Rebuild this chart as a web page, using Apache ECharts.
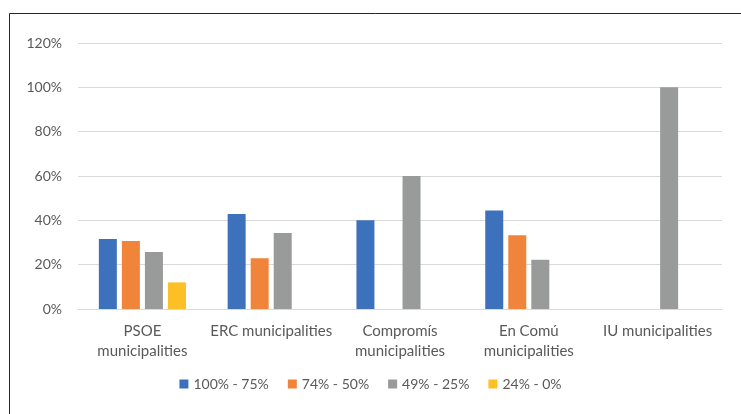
<!DOCTYPE html>
<html>
<head>
<meta charset="utf-8">
<script src="https://cdn.jsdelivr.net/npm/echarts@6/dist/echarts.min.js"></script>
<style>
  html, body { margin: 0; padding: 0; background: #fff; }
  #chart { width: 741px; height: 414px; }
</style>
</head>
<body>
<div id="chart"></div>
<script>
// Municipality groups (category axis)
const categories = [
  'PSOE\nmunicipalities',
  'ERC municipalities',
  'Compromís\nmunicipalities',
  'En Comú\nmunicipalities',
  'IU municipalities'
];

// Share of municipalities per band, in percent ('-' = no bar)
const band100to75 = [31.6, 42.9, 40.0, 44.4, '-'];
const band74to50  = [30.7, 22.9, '-', 33.3, '-'];
const band49to25  = [25.7, 34.3, 60.0, 22.2, 100];
const band24to0   = [12.0, '-', '-', '-', '-'];

const seriesNames = ['100% - 75%', '74% - 50%', '49% - 25%', '24% - 0%'];
const seriesColors = ['#3D71BB', '#F1843B', '#999B9B', '#FDBF26'];
const seriesData = [band100to75, band74to50, band49to25, band24to0];

// Value axis ticks
const yMin = 0, yMax = 120, yStep = 20;

const FONT = 'Lato, "Open Sans", sans-serif';
const TEXT = '#595959';
const GRID = '#D9D9D9';

const chart = echarts.init(document.getElementById('chart'), null, { renderer: 'canvas' });

chart.setOption({
  animation: false,
  backgroundColor: '#fff',
  textStyle: { fontFamily: FONT },
  graphic: [{
    type: 'rect',
    shape: { x: 9.5, y: 13.5, width: 800, height: 500 },
    style: { fill: 'none', stroke: '#262626', lineWidth: 1 },
    silent: true
  }],
  grid: { left: 78, right: 19, top: 43, bottom: 105, containLabel: false },
  legend: {
    data: seriesNames,
    top: 372,
    left: 'center',
    icon: 'rect',
    itemWidth: 9,
    itemHeight: 9,
    itemGap: 19,
    textStyle: { fontFamily: FONT, fontSize: 14, color: TEXT }
  },
  xAxis: {
    type: 'category',
    data: categories,
    axisLine: { show: true, lineStyle: { color: GRID, width: 1 } },
    axisTick: { show: false },
    axisLabel: {
      fontFamily: FONT, fontSize: 15, color: TEXT,
      margin: 12, lineHeight: 20, interval: 0, align: 'center'
    }
  },
  yAxis: {
    type: 'value',
    min: yMin, max: yMax, interval: yStep,
    axisLine: { show: false },
    axisTick: { show: false },
    axisLabel: {
      fontFamily: FONT, fontSize: 14, color: TEXT, margin: 16,
      formatter: '{value}%'
    },
    splitLine: { lineStyle: { color: GRID, width: 1 } }
  },
  series: seriesData.map((d, i) => ({
    name: seriesNames[i],
    type: 'bar',
    data: d,
    barWidth: 18,
    barGap: '28%',
    itemStyle: { color: seriesColors[i] }
  }))
});
</script>
</body>
</html>
